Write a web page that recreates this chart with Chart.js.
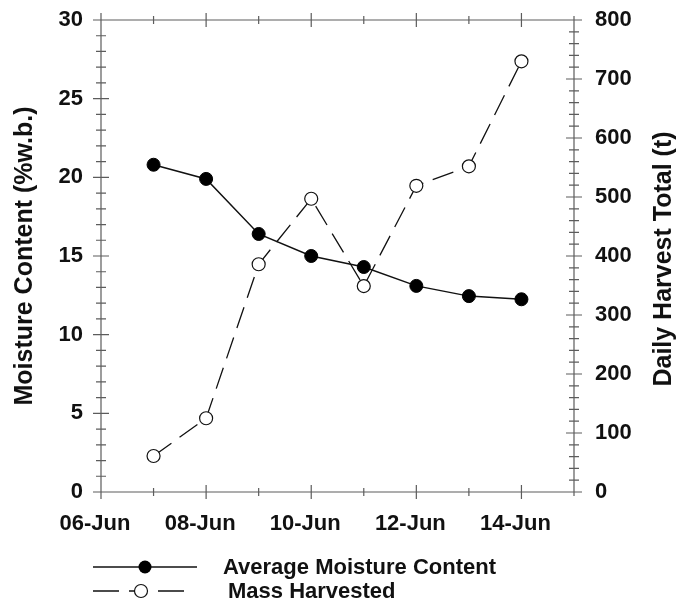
<!DOCTYPE html>
<html>
<head>
<meta charset="utf-8">
<script src="https://cdn.jsdelivr.net/npm/chart.js@4/dist/chart.umd.min.js"></script>
<style>
  html, body { margin: 0; padding: 0; background: #fff; }
  #wrap { width: 680px; height: 606px; }
</style>
</head>
<body>
<div id="wrap"><canvas id="harvestChart" width="680" height="606"></canvas></div>
<script>
// days of June
var days = [7, 8, 9, 10, 11, 12, 13, 14];
var moisture = [20.8, 19.9, 16.4, 15.0, 14.3, 13.1, 12.45, 12.25];   // %w.b.
var massHarvested = [61, 125, 386, 497, 349, 519, 552, 730];       // t

var dayTicks = [6, 8, 10, 12, 14];
var dayTickLabels = ['06-Jun', '08-Jun', '10-Jun', '12-Jun', '14-Jun'];

var FONT = "'Liberation Sans', Arial, sans-serif";
var axisGrey = '#5c5c5c';

// ticks that cross the frame lines (in and out), major + minor
var crossTicks = {
  id: 'crossTicks',
  beforeDatasetsDraw: function (chart) {
    var ctx = chart.ctx, a = chart.chartArea;
    var x = chart.scales.x, y = chart.scales.y, y1 = chart.scales.y1;
    ctx.save();
    ctx.strokeStyle = axisGrey;
    ctx.lineWidth = 1.2;
    ctx.beginPath();
    // frame: left, bottom, right, top
    ctx.moveTo(a.left, a.top); ctx.lineTo(a.left, a.bottom);
    ctx.lineTo(a.right, a.bottom); ctx.lineTo(a.right, a.top);
    ctx.moveTo(a.left, a.top); ctx.lineTo(a.right, a.top);
    var v, p, len;
    for (v = 0; v <= 30; v++) {
      p = y.getPixelForValue(v);
      len = v % 5 === 0 ? 8 : 5;
      ctx.moveTo(a.left - len, p); ctx.lineTo(a.left + len, p);
    }
    for (v = 0; v <= 800; v += 20) {
      p = y1.getPixelForValue(v);
      len = v % 100 === 0 ? 8 : 5;
      ctx.moveTo(a.right - len, p); ctx.lineTo(a.right + len, p);
    }
    for (v = 6; v <= 15; v++) {
      p = x.getPixelForValue(v);
      len = v % 2 === 0 ? 7 : 4;
      ctx.moveTo(p, a.bottom - len); ctx.lineTo(p, a.bottom + len);
      ctx.moveTo(p, a.top - len); ctx.lineTo(p, a.top + len);
    }
    ctx.stroke();
    ctx.restore();
  },
  afterDraw: function (chart) {
    var ctx = chart.ctx, a = chart.chartArea;
    var mid = (a.top + a.bottom) / 2;
    ctx.save();
    ctx.fillStyle = '#111';
    ctx.font = 'bold 25px ' + FONT;
    ctx.textAlign = 'center';
    ctx.textBaseline = 'middle';
    // both axis titles read bottom-to-top
    ctx.save();
    ctx.translate(25, mid);
    ctx.rotate(-Math.PI / 2);
    ctx.fillText('Moisture Content (%w.b.)', 0, 0);
    ctx.restore();
    ctx.save();
    ctx.translate(664, mid + 3);
    ctx.rotate(-Math.PI / 2);
    ctx.fillText('Daily Harvest Total (t)', 0, 0);
    ctx.restore();

    // legend below the plot
    ctx.strokeStyle = '#111';
    ctx.lineWidth = 1.5;
    ctx.beginPath();
    ctx.moveTo(93, 567); ctx.lineTo(197, 567);
    ctx.stroke();
    ctx.beginPath();
    ctx.fillStyle = '#000';
    ctx.arc(145, 567, 6.5, 0, Math.PI * 2);
    ctx.fill();

    ctx.beginPath();
    ctx.moveTo(93, 591); ctx.lineTo(119, 591);
    ctx.moveTo(129, 591); ctx.lineTo(137, 591);
    ctx.moveTo(158, 591); ctx.lineTo(184, 591);
    ctx.stroke();
    ctx.beginPath();
    ctx.fillStyle = '#fff';
    ctx.lineWidth = 1.2;
    ctx.arc(141, 591, 6.5, 0, Math.PI * 2);
    ctx.fill();
    ctx.stroke();

    ctx.fillStyle = '#111';
    ctx.font = 'bold 22px ' + FONT;
    ctx.textAlign = 'left';
    ctx.fillText(chart.data.datasets[0].label, 223, 568);
    ctx.fillText(chart.data.datasets[1].label, 228, 592);
    ctx.restore();
  }
};

var tickFont = { family: FONT, size: 22, weight: 'bold' };

var harvestChart = new Chart(document.getElementById('harvestChart').getContext('2d'), {
  type: 'line',
  data: {
    datasets: [{
      label: 'Average Moisture Content',
      data: days.map(function (d, i) { return { x: d, y: moisture[i] }; }),
      yAxisID: 'y',
      borderColor: '#111',
      borderWidth: 1.5,
      pointRadius: 6.5,
      pointBackgroundColor: '#000',
      pointBorderColor: '#000',
      pointBorderWidth: 1,
      tension: 0
    }, {
      label: 'Mass Harvested',
      data: days.map(function (d, i) { return { x: d, y: massHarvested[i] }; }),
      yAxisID: 'y1',
      borderColor: '#111',
      borderWidth: 1.3,
      borderDash: [22, 10],
      pointRadius: 6.5,
      pointBackgroundColor: '#fff',
      pointBorderColor: '#111',
      pointBorderWidth: 1.2,
      tension: 0
    }]
  },
  options: {
    responsive: false,
    animation: false,
    layout: { padding: { left: 0, right: 0, top: 20, bottom: 64 } },
    plugins: { legend: { display: false }, tooltip: { enabled: false } },
    scales: {
      x: {
        type: 'linear',
        min: 6, max: 15,
        grid: { display: false, drawTicks: false },
        border: { display: false },
        afterBuildTicks: function (scale) {
          scale.ticks = dayTicks.map(function (v) { return { value: v }; });
        },
        afterFit: function (scale) { scale.height = 50; },
        ticks: {
          padding: 19,
          labelOffset: -6,
          color: '#111',
          font: tickFont,
          maxRotation: 0,
          autoSkip: false,
          callback: function (v) { return dayTickLabels[dayTicks.indexOf(v)]; }
        }
      },
      y: {
        position: 'left',
        min: 0, max: 30,
        grid: { display: false, drawTicks: false },
        border: { display: false },
        afterFit: function (scale) {
          scale.width = 101;
          scale.paddingTop = 0;
          scale.paddingBottom = 0;
        },
        ticks: { stepSize: 5, padding: 18, color: '#111', font: tickFont }
      },
      y1: {
        position: 'right',
        min: 0, max: 800,
        grid: { display: false, drawTicks: false },
        border: { display: false },
        afterFit: function (scale) {
          scale.width = 106;
          scale.paddingTop = 0;
          scale.paddingBottom = 0;
        },
        ticks: { stepSize: 100, padding: 21, color: '#111', font: tickFont }
      }
    }
  },
  plugins: [crossTicks]
});
</script>
</body>
</html>
